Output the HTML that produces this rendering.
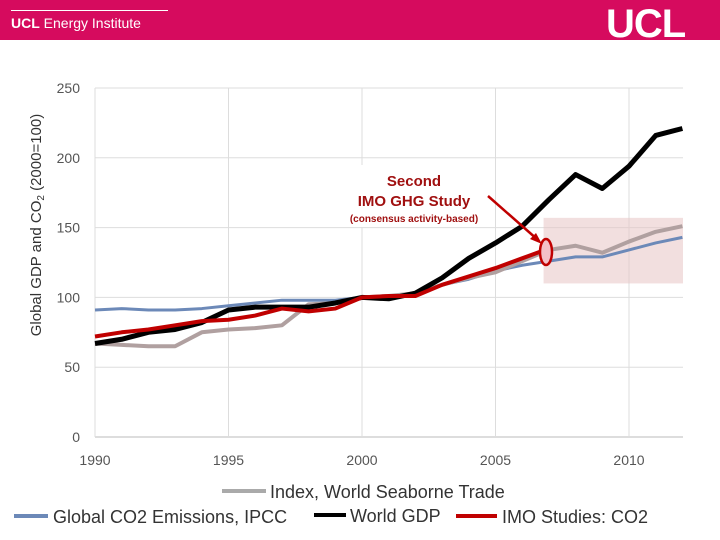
<!DOCTYPE html>
<html><head><meta charset="utf-8"><style>
body{margin:0;width:720px;height:540px;overflow:hidden;background:#fff;font-family:"Liberation Sans",sans-serif}
</style></head><body>
<div style="position:absolute;left:0;top:0;width:720px;height:40px;background:#d60b5e"></div>
<div style="position:absolute;left:11px;top:10px;width:157px;height:1px;background:#fff"></div>
<div style="position:absolute;left:11px;top:15px;color:#fff;font-size:14px"><b>UCL</b> Energy Institute</div>
<div style="position:absolute;left:606px;top:4px;color:#fff;font-size:40px;font-weight:bold;letter-spacing:-1px;line-height:40px">UCL</div>
<svg id="chart" width="720" height="540" style="position:absolute;left:0;top:0"></svg>
<script>
const years=[1990,1991,1992,1993,1994,1995,1996,1997,1998,1999,2000,2001,2002,2003,2004,2005,2006,2007,2008,2009,2010,2011,2012];
const seaborne=[67,66,65,65,75,77,78,80,95,96,100,101,103,109,114,118,126,134,137,132,140,147,151];
const ipcc=[91,92,91,91,92,94,96,98,98,98,100,101,102,109,113,119,123,126,129,129,134,139,143];
const gdp=[67,70,75,77,82,91,93,93,93,96,100,99,103,114,128,139,151,170,188,178,194,216,221];
const imoYears=[1990,1991,1992,1993,1994,1995,1996,1997,1998,1999,2000,2001,2002,2003,2004,2005,2006,2007];
const imo=[72,75,77,80,83,84,87,92,90,92,100,101,101,109,115,121,128,135];
const yTicks=[0,50,100,150,200,250];
const xTicks=[1990,1995,2000,2005,2010];
const NS='http://www.w3.org/2000/svg';
const svg=document.getElementById('chart');
const X=y=>95+(y-1990)*(629-95)/20;
const Y=v=>437-v*(437-88)/250;
function mk(t,a){const e=document.createElementNS(NS,t);for(const k in a)e.setAttribute(k,a[k]);svg.appendChild(e);return e;}
yTicks.forEach(v=>{
 const l=mk('line',{x1:95,x2:683,y1:Y(v),y2:Y(v),stroke:v?'#ddd':'#bbb','stroke-width':1});
 
 
 const t=mk('text',{x:80,y:Y(v)+5,'text-anchor':'end','font-size':14,fill:'#555'});t.textContent=v;
 
 
});
xTicks.forEach(v=>{
 const l=mk('line',{x1:X(v),x2:X(v),y1:88,y2:437,stroke:'#ddd','stroke-width':1});
 
 
 const t=mk('text',{x:X(v),y:465,'text-anchor':'middle','font-size':14,fill:'#555'});t.textContent=v;
 
 
});
const box=mk('rect',{x:X(2006.8),y:Y(157),width:683-X(2006.8),height:Y(110)-Y(157),fill:'#e8c4c4',opacity:0.55});


function line(xs,vs,c,w,name){
 const p=mk('polyline',{points:xs.map((y,i)=>X(y)+','+Y(vs[i])).join(' '),fill:'none',stroke:c,'stroke-width':w,'stroke-linejoin':'round'});
 
 
}
line(years,ipcc,'#6c89b8',3,'series-ipcc');
line(years,seaborne,'#b0a0a0',4,'series-seaborne-trade');
line(years,gdp,'#000',5,'series-world-gdp');
line(imoYears,imo,'#c00000',4,'series-imo');
const lb=mk('rect',{x:343,y:165,width:143,height:62,fill:'#fff'});


[['Second',186,15],['IMO GHG Study',206,15],['(consensus activity-based)',222,10]].forEach(a=>{
 const t=mk('text',{x:414,y:a[1],'text-anchor':'middle','font-size':a[2],fill:'#a01010','font-weight':'bold'});t.textContent=a[0];
 
 
});
const ar=mk('line',{x1:488,y1:196,x2:538,y2:240,stroke:'#c00000','stroke-width':2.5});


const ah=mk('polygon',{points:'542,244 530,239 536,233',fill:'#c00000'});


const el=mk('ellipse',{cx:546,cy:252,rx:6,ry:13,fill:'#f4c0c8',stroke:'#c00000','stroke-width':2.5});


const yt=mk('text',{x:0,y:0,transform:'translate(41,225) rotate(-90)','text-anchor':'middle','font-size':15,fill:'#333'});
yt.innerHTML='Global GDP and CO<tspan font-size="10" dy="3">2</tspan><tspan dy="-3"> (2000=100)</tspan>';


[[222,266,491,'#aaaaaa','Index, World Seaborne Trade',270],[14,48,516,'#6c89b8','Global CO2 Emissions, IPCC',53],[314,346,515,'#000','World GDP',350],[456,497,516,'#c00000','IMO Studies: CO2',502]].forEach(a=>{
 const l=mk('line',{x1:a[0],x2:a[1],y1:a[2],y2:a[2],stroke:a[3],'stroke-width':4});
 
 
 const t=mk('text',{x:a[5],y:a[2]+7,'font-size':18,fill:'#333'});t.textContent=a[4];
 
 
});
</script>
</body></html>
